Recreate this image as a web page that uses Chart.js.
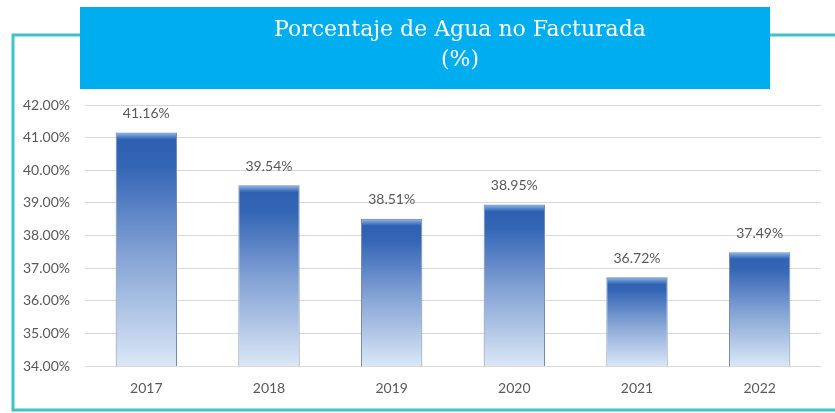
<!DOCTYPE html>
<html>
<head>
<meta charset="utf-8">
<script src="https://cdn.jsdelivr.net/npm/chart.js@4"></script>
<style>
  html, body { margin: 0; padding: 0; background: #fff; }
  #wrap { width: 835px; height: 413px; position: relative; }
</style>
</head>
<body>
<div id="wrap"><canvas id="myChart"></canvas></div>
<script>
// data
const years = ["2017", "2018", "2019", "2020", "2021", "2022"];
const pctNoFacturada = [41.16, 39.54, 38.51, 38.95, 36.72, 37.49];
const yMin = 34, yMax = 42;
const titleLines = ["Porcentaje de Agua no Facturada", "(%)"];

const grey = "#595959";
const labelFont = "14px Lato, 'Open Sans', sans-serif";

// frame + blue title box
const framePlugin = {
    id: "frame",
    beforeDraw(chart) {
        const c = chart.ctx;
        c.save();
        c.strokeStyle = "#3cc4c9";
        c.lineWidth = 3;
        c.beginPath();
        c.moveTo(835, 35);
        c.lineTo(13, 35);
        c.lineTo(13, 410);
        c.lineTo(835, 410);
        c.stroke();
        c.fillStyle = "#00aeef";
        c.fillRect(80, 7, 690, 82);
        c.fillStyle = "#ffffff";
        c.textAlign = "center";
        c.textBaseline = "middle";
        c.font = "22px 'DejaVu Serif', serif";
        c.fillText(titleLines[0], 460, 30);
        c.fillText(titleLines[1], 460, 60);
        c.restore();
    },
};

// bevel highlight on bars + value labels
const barExtras = {
    id: "barExtras",
    afterDatasetsDraw(chart) {
        const c = chart.ctx;
        const meta = chart.getDatasetMeta(0);
        c.save();
        meta.data.forEach((bar, i) => {
            const half = bar.width / 2;
            const g = c.createLinearGradient(0, bar.y, 0, bar.y + 7);
            g.addColorStop(0, "rgba(160,200,245,0.9)");
            g.addColorStop(1, "rgba(160,200,245,0)");
            c.fillStyle = g;
            c.fillRect(bar.x - half + 1, bar.y + 1, bar.width - 2, 7);
            c.fillStyle = grey;
            c.font = labelFont;
            c.textAlign = "center";
            c.textBaseline = "middle";
            c.fillText(pctNoFacturada[i].toFixed(2) + "%", bar.x, bar.y - 19);
        });
        c.restore();
    },
};

function barGradient(context) {
    const chart = context.chart;
    const ys = chart.scales.y;
    if (!ys || !chart.chartArea) return "#4a72bd";
    const top = ys.getPixelForValue(context.raw);
    const bottom = ys.getPixelForValue(yMin);
    const g = chart.ctx.createLinearGradient(0, top, 0, bottom);
    g.addColorStop(0, "#2c5eb0");
    g.addColorStop(0.15, "#3566b6");
    g.addColorStop(0.5, "#7f9fd3");
    g.addColorStop(1, "#dae7f6");
    return g;
}

const ctx = document.getElementById("myChart").getContext("2d");
new Chart(ctx, {
    type: "bar",
    data: {
        labels: years,
        datasets: [
            {
                data: pctNoFacturada,
                backgroundColor: barGradient,
                borderColor: "#7a8cab",
                borderWidth: 1,
                categoryPercentage: 1,
                barPercentage: 0.5,
            },
        ],
    },
    options: {
        responsive: true,
        maintainAspectRatio: false,
        animation: false,
        layout: { padding: { top: 105, right: 14, bottom: 0, left: 0 } },
        plugins: { legend: { display: false }, tooltip: { enabled: false } },
        scales: {
            x: {
                grid: { display: false, drawTicks: false },
                border: { display: false },
                ticks: { color: grey, font: { family: "Lato", size: 14 }, padding: 14 },
                afterFit(scale) { scale.height = 47; },
            },
            y: {
                min: yMin,
                max: yMax,
                grid: { color: "#d9d9d9", lineWidth: 1, drawTicks: false },
                border: { display: false },
                ticks: {
                    stepSize: 1,
                    color: grey,
                    font: { family: "Lato", size: 14 },
                    padding: 15,
                    callback: (v) => v.toFixed(2) + "%",
                },
                afterFit(scale) { scale.width = 85; },
            },
        },
    },
    plugins: [framePlugin, barExtras],
});
</script>
</body>
</html>
